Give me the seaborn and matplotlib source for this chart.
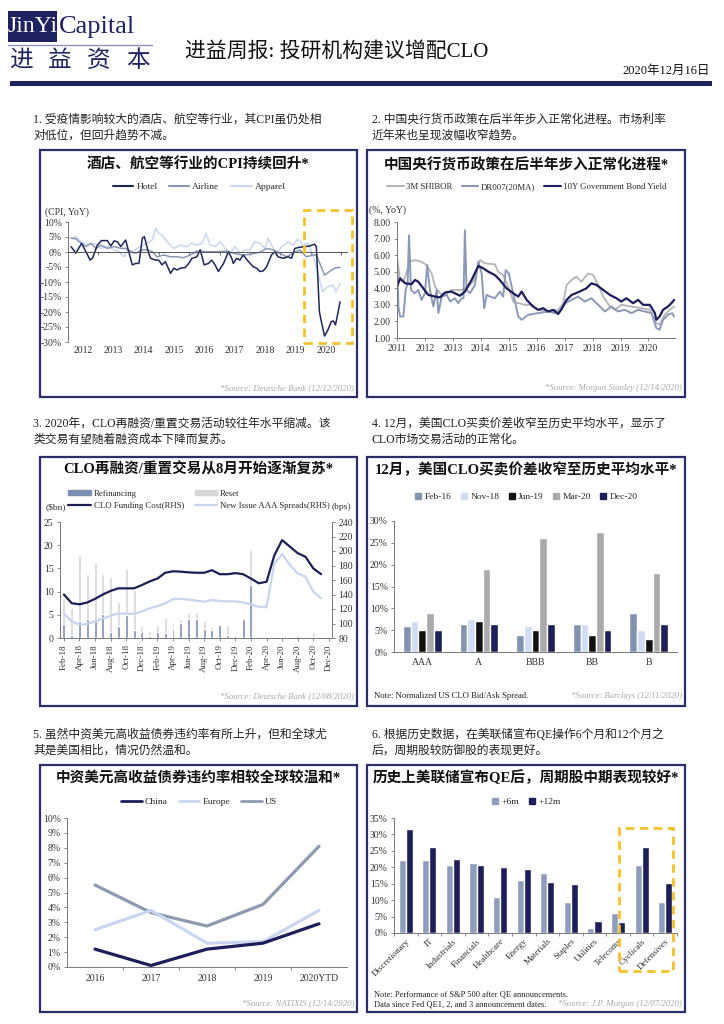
import numpy as np
import pandas as pd
import matplotlib
matplotlib.use("Agg")
import matplotlib.pyplot as plt
import matplotlib.patches as patches
from matplotlib.lines import Line2D
import seaborn as sns

# ---------------- data ----------------
# 1. CPI YoY (%), dates as decimal years
hotel_t = [2012.10, 2012.26, 2012.45, 2012.73, 2012.81, 2012.97, 2013.10, 2013.30, 2013.41, 2013.52,
           2013.63, 2013.74, 2013.90, 2014.12, 2014.23, 2014.34, 2014.45, 2014.52, 2014.63, 2014.72,
           2014.89, 2014.99, 2015.10, 2015.21, 2015.38, 2015.49, 2015.60, 2015.70, 2015.87, 2015.98,
           2016.09, 2016.25, 2016.36, 2016.49, 2016.63, 2016.74, 2016.85, 2016.96, 2017.13, 2017.29,
           2017.40, 2017.45, 2017.56, 2017.67, 2017.78, 2017.95, 2018.11, 2018.22, 2018.33, 2018.44,
           2018.55, 2018.71, 2018.82, 2018.93, 2019.09, 2019.26, 2019.37, 2019.48, 2019.64, 2019.80,
           2019.97, 2020.13, 2020.19, 2020.29, 2020.35, 2020.46, 2020.57, 2020.68, 2020.75, 2020.82,
           2020.90, 2020.97]
hotel_v = [1.8, -0.4, 2.9, -2.7, -2.0, 2.3, 3.8, 3.8, 2.0, 3.7,
           3.4, 1.8, 4.0, -4.3, -3.8, -3.8, 4.6, 5.1, 0.7, -2.1,
           -2.7, -2.7, -4.3, -3.2, -7.1, -5.4, -6.0, -5.4, -5.2, -3.8,
           -2.1, -1.6, 0.7, -4.3, -3.8, -2.7, -4.3, -6.5, -3.8, 0.1,
           -2.1, -3.8, -2.1, -2.7, -1.0, -3.2, -4.9, -5.4, -6.5, -6.3,
           -4.9, -1.0, 0.1, -1.6, -2.1, -1.6, -2.1, 1.2, 1.6, 1.8,
           2.0, 2.6, 1.8, -19.9, -23.0, -28.0, -26.0, -23.2, -23.0, -24.3,
           -20.4, -16.6]
airline_t = [2012.10, 2012.26, 2012.43, 2012.59, 2012.75, 2012.92, 2013.08, 2013.30, 2013.52, 2013.74,
             2013.90, 2014.12, 2014.23, 2014.45, 2014.63, 2014.78, 2014.94, 2015.16, 2015.38, 2015.60,
             2015.81, 2016.03, 2016.25, 2016.58, 2016.91, 2017.23, 2017.45, 2017.73, 2018.00, 2018.33,
             2018.55, 2018.77, 2018.98, 2019.20, 2019.42, 2019.64, 2019.86, 2020.08, 2020.19, 2020.46,
             2020.62, 2020.79, 2020.97]
airline_v = [4.6, 4.4, 2.9, 1.8, 2.9, 1.2, 2.3, 1.2, 1.8, 1.2,
             1.2, -0.1, -0.4, 0.7, 0.7, 0.1, -1.6, -1.0, -1.6, -1.6,
             -1.9, -1.0, 0.3, 0.1, 0.1, 0.3, -0.4, -1.0, -0.8, -0.1,
             1.2, 0.7, -0.4, -1.6, -0.4, 0.7, -1.6, -1.0, -1.0, -7.7,
             -6.5, -5.4, -5.1]
apparel_t = [2012.10, 2012.26, 2012.43, 2012.64, 2012.86, 2013.08, 2013.30, 2013.52, 2013.68, 2013.85,
             2013.96, 2014.12, 2014.39, 2014.61, 2014.78, 2014.89, 2014.99, 2015.10, 2015.27, 2015.49,
             2015.70, 2015.92, 2016.09, 2016.25, 2016.42, 2016.55, 2016.69, 2016.85, 2017.02, 2017.18,
             2017.34, 2017.51, 2017.67, 2017.84, 2018.00, 2018.16, 2018.33, 2018.49, 2018.60, 2018.77,
             2018.87, 2019.04, 2019.26, 2019.42, 2019.58, 2019.75, 2019.91, 2020.08, 2020.40, 2020.57,
             2020.73, 2020.84, 2020.97]
apparel_v = [4.6, 5.1, 3.4, 2.3, 2.9, 1.2, 1.8, 0.7, 0.1, -1.6,
             0.7, 0.1, 1.8, 2.9, 4.0, 7.9, 6.2, 5.7, 3.4, 1.2,
             2.3, 1.8, 2.9, 2.3, 2.9, 6.2, 2.3, 1.8, 3.4, 1.2,
             -0.4, 1.8, -0.4, 0.7, 0.7, 3.4, 2.9, 1.2, 4.6, 1.2,
             -1.0, 1.8, 3.4, 2.3, 4.3, 2.3, 2.9, -1.0, -13.2, -11.6,
             -11.0, -13.2, -10.5]
cpi_years = [2012, 2013, 2014, 2015, 2016, 2017, 2018, 2019, 2020]

# 2. China rates (%)
bond_t = [2011.00, 2011.11, 2011.29, 2011.52, 2011.64, 2011.76, 2011.94, 2012.12, 2012.36, 2012.54,
          2012.72, 2012.95, 2013.25, 2013.43, 2013.67, 2013.91, 2014.09, 2014.27, 2014.50, 2014.68,
          2014.92, 2015.16, 2015.34, 2015.46, 2015.64, 2015.87, 2016.05, 2016.23, 2016.41, 2016.59,
          2016.77, 2016.89, 2017.07, 2017.25, 2017.54, 2017.78, 2017.96, 2018.14, 2018.38, 2018.62,
          2018.85, 2019.03, 2019.21, 2019.45, 2019.63, 2019.81, 2020.05, 2020.23, 2020.28, 2020.40,
          2020.52, 2020.70, 2020.82, 2020.92]
bond_v = [4.1, 4.6, 4.3, 4.25, 4.5, 4.4, 4.0, 3.6, 3.5, 3.45,
          3.75, 3.8, 3.55, 3.8, 4.5, 5.35, 5.2, 5.0, 4.8, 4.5,
          4.0, 3.7, 3.5, 3.8, 3.3, 2.9, 2.7, 2.8, 2.6, 2.7,
          2.45, 2.75, 3.3, 3.6, 3.8, 4.0, 4.3, 4.2, 3.9, 3.6,
          3.4, 3.2, 3.4, 3.1, 3.3, 3.0, 3.0, 2.5, 2.1, 2.3,
          2.7, 2.9, 3.1, 3.3]
shibor_t = [2011.00, 2011.11, 2011.23, 2011.29, 2011.46, 2011.64, 2011.88, 2012.06, 2012.24, 2012.36,
            2012.54, 2012.72, 2012.95, 2013.31, 2013.55, 2013.73, 2013.97, 2014.15, 2014.50, 2014.62,
            2014.80, 2014.98, 2015.16, 2015.34, 2015.58, 2015.82, 2016.05, 2016.41, 2016.77, 2016.95,
            2017.07, 2017.25, 2017.42, 2017.60, 2017.84, 2018.02, 2018.20, 2018.38, 2018.62, 2018.80,
            2019.03, 2019.39, 2019.75, 2020.05, 2020.28, 2020.40, 2020.58, 2020.76, 2020.92]
shibor_v = [5.9, 4.5, 4.4, 4.7, 5.6, 5.7, 5.6, 5.4, 4.9, 4.1,
            3.7, 3.6, 3.9, 3.9, 4.1, 4.4, 5.7, 5.5, 5.45, 5.0,
            4.8, 4.1, 3.2, 3.1, 3.0, 3.0, 2.7, 2.6, 2.7, 3.1,
            4.2, 4.5, 4.7, 4.4, 4.9, 4.8, 4.2, 3.5, 2.9, 2.7,
            3.0, 2.9, 2.8, 2.7, 1.9, 1.8, 2.4, 2.7, 2.9]
dr007_t = [2011.00, 2011.05, 2011.11, 2011.23, 2011.31, 2011.38, 2011.43, 2011.50, 2011.64, 2011.76,
           2011.88, 2012.00, 2012.08, 2012.18, 2012.30, 2012.42, 2012.48, 2012.60, 2012.78, 2012.90,
           2013.07, 2013.19, 2013.31, 2013.38, 2013.43, 2013.49, 2013.61, 2013.79, 2013.91, 2014.03,
           2014.12, 2014.21, 2014.33, 2014.50, 2014.68, 2014.80, 2014.89, 2015.00, 2015.34, 2015.46,
           2015.70, 2016.05, 2016.41, 2016.65, 2016.83, 2017.01, 2017.25, 2017.48, 2017.72, 2017.96,
           2018.20, 2018.44, 2018.68, 2018.91, 2019.15, 2019.39, 2019.63, 2019.87, 2020.11, 2020.28,
           2020.40, 2020.52, 2020.70, 2020.85, 2020.92]
dr007_v = [6.0, 2.9, 2.3, 2.3, 3.9, 4.3, 7.2, 3.9, 3.7, 3.9,
           3.3, 3.7, 5.4, 3.9, 2.9, 3.9, 2.5, 3.5, 3.6, 3.2,
           3.4, 3.1, 3.4, 3.4, 7.5, 3.9, 3.7, 4.2, 5.6, 4.9,
           2.8, 3.6, 3.5, 3.4, 3.8, 3.5, 5.1, 4.9, 2.3, 2.1,
           2.4, 2.5, 2.6, 2.5, 2.6, 3.1, 3.3, 3.5, 3.2, 3.4,
           3.0, 2.6, 2.9, 2.6, 2.7, 2.5, 2.7, 2.6, 2.5, 1.6,
           1.5, 2.1, 2.4, 2.5, 2.3]
rate_years = [2011, 2012, 2013, 2014, 2015, 2016, 2017, 2018, 2019, 2020]

# 3. CLO refinancing / reset ($bn) and spreads (bps), monthly Feb-18 .. Dec-20
clo_months = list(pd.date_range("2018-02-01", "2020-12-01", freq="MS").strftime("%b-%y"))
refi = [3.0, 0.6, 3.7, 4.0, 3.6, 5.1, 1.4, 2.6, 5.0, 1.7,
        1.4, 0.5, 1.4, 1.15, 1.9, 3.2, 4.2, 4.1, 1.9, 1.7,
        2.9, 0.6, 0.0, 4.1, 11.4, 0.2, 0.0, 0.0, 0.0, 0.0,
        0.5, 0.2, 0.2, 0.0, 0.0]
reset = [8.6, 6.5, 17.9, 13.9, 16.4, 13.7, 13.2, 7.7, 15.0, 10.3,
         2.6, 1.5, 2.8, 4.5, 3.5, 4.2, 5.3, 5.7, 3.7, 2.4,
         2.9, 2.9, 0.6, 4.6, 19.0, 0.0, 0.0, 0.0, 0.0, 0.0,
         0.0, 0.2, 1.4, 0.0, 0.0]
funding_cost = [140, 128, 126.5, 129, 134, 140, 145, 148.5, 148.5, 148.5,
                153, 158, 162, 170, 172, 171.5, 170.5, 170, 170, 173.5,
                168, 168, 169.5, 168, 162, 155.5, 157.5, 194, 215, 206,
                197, 192, 176, 168]
aaa_spread = [114, 103, 98.5, 99.5, 103, 107, 110.5, 114, 113.5, 113.5,
              116.5, 121, 124, 128, 133.5, 134, 133, 131.5, 130, 132.5,
              131, 130.5, 130.5, 129, 126.5, 123, 122.5, 183, 195.5, 181,
              169, 164.5, 144, 135]

# 4. CLO bid/ask spread (%)
ratings = ["AAA", "A", "BBB", "BB", "B"]
spread_dates = ["Feb-16", "Nov-18", "Jun-19", "Mar-20", "Dec-20"]
spread_feb16 = [6.0, 6.5, 4.0, 6.5, 9.0]
spread_nov18 = [7.0, 7.5, 6.0, 6.5, 5.0]
spread_jun19 = [5.0, 7.0, 5.0, 4.0, 3.0]
spread_mar20 = [9.0, 19.0, 26.0, 27.5, 18.0]
spread_dec20 = [5.0, 6.5, 6.5, 5.0, 6.5]

# 5. High-yield default rates (%)
hy_years = ["2016", "2017", "2018", "2019", "2020YTD"]
hy_china = [1.2, 0.1, 1.2, 1.6, 2.9]
hy_europe = [2.5, 3.8, 1.6, 1.7, 3.8]
hy_us = [5.5, 3.65, 2.75, 4.2, 8.1]

# 6. S&P 500 sector performance after QE (%)
sectors = ["Discretionary", "IT", "Industrials", "Financials", "Healthcare", "Energy",
           "Materials", "Staples", "Utilities", "Telecoms", "Cyclicals", "Defensives"]
perf_6m = [22.2, 22.2, 20.6, 21.4, 11.0, 16.1, 18.3, 9.4, 1.5, 6.1, 20.6, 9.4]
perf_12m = [31.7, 26.2, 22.4, 20.6, 20.1, 19.5, 15.5, 14.8, 3.7, 3.3, 26.3, 15.1]

# ---------------- style ----------------
sns.set_theme(style="white")
plt.rcParams['font.family'] = ['Liberation Serif', 'Noto Sans CJK SC']
plt.rcParams['axes.unicode_minus'] = False

NAVY = '#1e2360'
GOLD = '#f2c22c'
W, H = 724, 1024
fig = plt.figure(figsize=(W / 100, H / 100), dpi=100)
fig.patch.set_facecolor('white')


def rect(x0, y0, x1, y1):
    return [x0 / W, 1 - y1 / H, (x1 - x0) / W, (y1 - y0) / H]


def ftext(x, y, s, **kw):
    kw.setdefault('va', 'center')
    return fig.text(x / W, 1 - y / H, s, **kw)


def frame(x0, y0, x1, y1, **kw):
    fig.add_artist(patches.Rectangle((x0 / W, 1 - y1 / H), (x1 - x0) / W, (y1 - y0) / H,
                                     transform=fig.transFigure, **kw))


def style_ax(ax):
    sns.despine(ax=ax)
    for s in ['left', 'bottom']:
        ax.spines[s].set_color('#777777')
        ax.spines[s].set_linewidth(0.7)
    ax.tick_params(axis='both', labelsize=7, labelcolor='#333333', color='#777777',
                   length=2.5, width=0.6, left=True, bottom=True, pad=2)
    ax.set_xlabel('')
    ax.set_ylabel('')


def legend(handles, labels, x, y, fontsize=7, **kw):
    fig.legend(handles, labels, loc='center', bbox_to_anchor=(x / W, 1 - y / H),
               frameon=False, fontsize=fontsize, handletextpad=0.3, borderaxespad=0, **kw)


def source(x, y, s):
    ftext(x, y, s, ha='right', fontsize=6.3, style='italic', color='#a8a8a8')


# ---------------- header ----------------
frame(8, 11, 57, 42, color=NAVY, lw=0)
ftext(32.5, 27, 'JinYi', color='white', fontsize=17, ha='center')
ftext(59, 27, 'Capital', color=NAVY, fontsize=19, ha='left')
fig.add_artist(Line2D([8 / W, 152 / W], [1 - 45 / H] * 2, transform=fig.transFigure,
                      color='#9096b8', lw=1))
for i, ch in enumerate('进益资本'):
    ftext(21 + i * 39, 61, ch, fontsize=17, color=NAVY, ha='center')
ftext(185, 52, '进益周报: 投研机构建议增配CLO', fontsize=15, ha='left', color='#111111')
ftext(710, 71, '2020年12月16日', fontsize=9, ha='right', color='#111111')
frame(10, 81, 712, 86, color=NAVY, lw=0)

# captions
cap = dict(fontsize=8.5, ha='left', color='#222222')
ftext(33, 120, '1. 受疫情影响较大的酒店、航空等行业，其CPI虽仍处相', **cap)
ftext(33, 136, '对低位，但回升趋势不减。', **cap)
ftext(372, 120, '2. 中国央行货币政策在后半年步入正常化进程。市场利率', **cap)
ftext(372, 136, '近年来也呈现波幅收窄趋势。', **cap)
ftext(33, 424, '3. 2020年，CLO再融资/重置交易活动较往年水平缩减。该', **cap)
ftext(33, 440, '类交易有望随着融资成本下降而复苏。', **cap)
ftext(372, 424, '4. 12月，美国CLO买卖价差收窄至历史平均水平，显示了', **cap)
ftext(372, 440, 'CLO市场交易活动的正常化。', **cap)
ftext(33, 735, '5. 虽然中资美元高收益债券违约率有所上升，但和全球尤', **cap)
ftext(33, 751, '其是美国相比，情况仍然温和。', **cap)
ftext(372, 735, '6. 根据历史数据，在美联储宣布QE操作6个月和12个月之', **cap)
ftext(372, 751, '后，周期股较防御股的表现更好。', **cap)

# panel frames and titles
boxes = [(40, 150, 357, 397), (367, 150, 685, 397), (40, 457, 357, 706),
         (367, 457, 685, 706), (40, 765, 357, 1012), (367, 765, 685, 1012)]
for b in boxes:
    frame(*b, fill=False, ec='#2b2e68', lw=1.6)
tit = dict(fontsize=10.5, fontweight='bold', ha='center', color='#111111')
ftext(198.5, 165, '酒店、航空等行业的CPI持续回升*', **tit)
ftext(526, 165, '中国央行货币政策在后半年步入正常化进程*', **tit)
ftext(198.5, 470, 'CLO再融资/重置交易从8月开始逐渐复苏*', **tit)
ftext(526, 470, '12月，美国CLO买卖价差收窄至历史平均水平*', **tit)
ftext(198.5, 778, '中资美元高收益债券违约率相较全球较温和*', **tit)
ftext(526, 778, '历史上美联储宣布QE后，周期股中期表现较好*', **tit)

# ---------------- panel 1 ----------------
c_hotel, c_air, c_app = '#1e2858', '#8898b3', '#c9d7ee'
ax1 = fig.add_axes(rect(68, 222, 347, 342))
sns.lineplot(x=apparel_t, y=apparel_v, color=c_app, lw=1.1, ax=ax1)
sns.lineplot(x=airline_t, y=airline_v, color=c_air, lw=1.1, ax=ax1)
sns.lineplot(x=hotel_t, y=hotel_v, color=c_hotel, lw=1.1, ax=ax1)
style_ax(ax1)
ax1.set_xlim(2012, 2021.2)
ax1.set_ylim(-30, 10)
ax1.set_yticks(range(-30, 11, 5))
ax1.set_yticklabels([f'{v}%' for v in range(-30, 11, 5)])
ax1.spines['bottom'].set_position(('data', 0))
ax1.spines['bottom'].set_color('#555555')
ax1.set_xticks([y + 0.5 for y in cpi_years])
ax1.set_xticklabels([str(y) for y in cpi_years])
ax1.set_xticks([y + 1 for y in cpi_years], minor=True)
ax1.tick_params(axis='x', which='major', length=0, pad=68)
ax1.tick_params(axis='x', which='minor', length=2.5, width=0.6, bottom=True, color='#555555')
ftext(45, 212, '(CPI, YoY)', fontsize=7, ha='left', color='#333333')
legend([Line2D([], [], color=c, lw=1.5) for c in (c_hotel, c_air, c_app)],
       ['Hotel', 'Airline', 'Apparel'], 199, 187, fontsize=6.8, ncol=3, handlelength=2.2,
       columnspacing=1.2)
frame(304, 210, 352, 343, fill=False, ec=GOLD, lw=2, ls=(0, (3, 2)))
source(354, 388, '*Source: Deutsche Bank (12/12/2020)')

# ---------------- panel 2 ----------------
c_sh, c_dr, c_bd = '#b5b5b5', '#8a9ab6', '#1c1f5a'
ax2 = fig.add_axes(rect(397, 222, 675, 338))
sns.lineplot(x=shibor_t, y=shibor_v, color=c_sh, lw=1.3, ax=ax2)
sns.lineplot(x=dr007_t, y=dr007_v, color=c_dr, lw=1.4, ax=ax2)
sns.lineplot(x=bond_t, y=bond_v, color=c_bd, lw=1.6, ax=ax2)
style_ax(ax2)
ax2.set_xlim(2011, 2020.95)
ax2.set_ylim(1, 8)
ax2.set_yticks(range(1, 9))
ax2.set_yticklabels([f'{v:.2f}' for v in range(1, 9)])
ax2.set_xticks(rate_years)
ax2.set_xticklabels([str(y) for y in rate_years])
ftext(369, 210, '(%, YoY)', fontsize=7, ha='left', color='#333333')
legend([Line2D([], [], color=c, lw=1.5) for c in (c_sh, c_dr, c_bd)],
       ['3M SHIBOR', 'DR007(20MA)', '10Y Government Bond Yield'], 527, 187, fontsize=6.3,
       ncol=3, handlelength=1.9, columnspacing=1.0)
source(682, 388, '*Source: Morgan Stanley (12/14/2020)')

# ---------------- panel 3 ----------------
c_refi, c_reset, c_fund, c_aaa = '#7d8fb0', '#d6d6d6', '#1c1f55', '#c7d6ef'
ax3 = fig.add_axes(rect(60, 522, 332, 638))
sns.barplot(x=clo_months, y=reset, color=c_reset, width=0.38, saturation=1, ax=ax3)
sns.barplot(x=clo_months, y=refi, color=c_refi, width=0.38, saturation=1, ax=ax3)
style_ax(ax3)
ax3.set_ylim(0, 25)
ax3.set_yticks(range(0, 26, 5))
ax3.set_xticks(range(0, len(clo_months), 2))
ax3.set_xticklabels(clo_months[::2], rotation=90, fontsize=6.5)
ax3r = ax3.twinx()
sns.lineplot(x=list(range(len(funding_cost))), y=aaa_spread, color=c_aaa, lw=1.6, ax=ax3r)
sns.lineplot(x=list(range(len(funding_cost))), y=funding_cost, color=c_fund, lw=1.6, ax=ax3r)
ax3r.set_ylim(80, 240)
ax3r.set_yticks(range(80, 241, 20))
for s in ['top', 'left', 'bottom']:
    ax3r.spines[s].set_visible(False)
ax3r.spines['right'].set_visible(True)
ax3r.spines['right'].set_color('#777777')
ax3r.spines['right'].set_linewidth(0.7)
ax3r.tick_params(axis='y', labelsize=7, labelcolor='#333333', color='#777777',
                 length=2.5, width=0.6, right=True, pad=2)
ax3r.set_ylabel('')
ax3.set_xlim(-0.5, 34.4)
ax3r.set_xlim(-0.5, 34.4)
ftext(56, 507, '($bn)', fontsize=6.8, ha='center', color='#333333')
ftext(341, 507, '(bps)', fontsize=6.8, ha='center', color='#333333')
legend([patches.Patch(color=c_refi), Line2D([], [], color=c_fund, lw=1.6),
        patches.Patch(color=c_reset), Line2D([], [], color=c_aaa, lw=1.6)],
       ['Refinancing', 'CLO Funding Cost(RHS)', 'Reset', 'New Issue AAA Spreads(RHS)'],
       199, 500, fontsize=6.3, ncol=2, handlelength=2.6, handleheight=0.45, columnspacing=1.2,
       labelspacing=0.5)
source(354, 696, '*Source: Deutsche Bank (12/08/2020)')

# ---------------- panel 4 ----------------
c_spread = ['#8193b0', '#d0dcf2', '#111111', '#aaaaaa', '#1d2157']
df4 = pd.DataFrame({
    'rating': ratings * 5,
    'date': np.repeat(spread_dates, len(ratings)),
    'val': spread_feb16 + spread_nov18 + spread_jun19 + spread_mar20 + spread_dec20,
})
ax4 = fig.add_axes(rect(394, 521, 677, 652))
sns.barplot(data=df4, x='rating', y='val', hue='date', palette=c_spread, width=0.68,
            saturation=1, legend=False, ax=ax4)
style_ax(ax4)
ax4.set_ylim(0, 30)
ax4.set_yticks(range(0, 31, 5))
ax4.set_yticklabels([f'{v}%' for v in range(0, 31, 5)])
ax4.tick_params(axis='x', length=0, pad=4)
legend([Line2D([], [], marker='s', ls='', color=c, markersize=4.5) for c in c_spread],
       spread_dates, 526, 497, fontsize=6.8, ncol=5, handlelength=0.8, columnspacing=0.9)
ftext(374, 696, 'Note: Normalized US CLO Bid/Ask Spread.', fontsize=6.2, ha='left', color='#222222')
source(682, 696, '*Source: Barclays (12/11/2020)')

# ---------------- panel 5 ----------------
c_cn, c_eu, c_us = '#1c1f5a', '#c9d7ee', '#8c9bb0'
pos5 = list(range(len(hy_years)))
ax5 = fig.add_axes(rect(67, 818, 347, 967))
sns.lineplot(x=pos5, y=hy_us, color=c_us, lw=2.3, ax=ax5)
sns.lineplot(x=pos5, y=hy_europe, color=c_eu, lw=2.3, ax=ax5)
sns.lineplot(x=pos5, y=hy_china, color=c_cn, lw=2.3, ax=ax5)
style_ax(ax5)
ax5.set_xlim(-0.5, len(hy_years) - 0.5)
ax5.set_ylim(0, 10)
ax5.set_yticks(range(0, 11))
ax5.set_yticklabels([f'{v}%' for v in range(0, 11)])
ax5.set_xticks(pos5)
ax5.set_xticklabels(hy_years)
ax5.set_xticks([p + 0.5 for p in pos5[:-1]], minor=True)
ax5.tick_params(axis='x', which='major', length=0, pad=5)
ax5.tick_params(axis='x', which='minor', length=2.5, width=0.6, bottom=True, color='#777777')
legend([Line2D([], [], color=c, lw=2) for c in (c_cn, c_eu, c_us)],
       ['China', 'Europe', 'US'], 199, 802, fontsize=6.8, ncol=3, handlelength=2.2,
       columnspacing=1.2)
source(354, 1003, '*Source: NATIXIS (12/14/2020)')

# ---------------- panel 6 ----------------
c_6m, c_12m = '#8e9dbb', '#1c1f5a'
df6 = pd.DataFrame({
    'sector': sectors * 2,
    'period': ['+6m'] * len(sectors) + ['+12m'] * len(sectors),
    'val': perf_6m + perf_12m,
})
ax6 = fig.add_axes(rect(394, 818, 677, 933))
sns.barplot(data=df6, x='sector', y='val', hue='period', palette=[c_6m, c_12m], width=0.6,
            saturation=1, legend=False, ax=ax6)
style_ax(ax6)
ax6.set_ylim(0, 35)
ax6.set_yticks(range(0, 36, 5))
ax6.set_yticklabels([f'{v}%' for v in range(0, 36, 5)])
ax6.set_xticks(range(len(sectors)))
ax6.set_xticklabels(sectors, rotation=45, ha='right', rotation_mode='anchor', fontsize=6.5)
ax6.set_xticks([i + 0.5 for i in range(-1, len(sectors))], minor=True)
ax6.tick_params(axis='x', which='major', length=0, pad=3)
ax6.tick_params(axis='x', which='minor', length=2.5, width=0.6, bottom=True, color='#777777')
legend([Line2D([], [], marker='s', ls='', color=c, markersize=4.5) for c in (c_6m, c_12m)],
       ['+6m', '+12m'], 526, 802, fontsize=6.8, ncol=2, handlelength=0.8, columnspacing=0.9)
frame(619, 828, 673, 971, fill=False, ec=GOLD, lw=2, ls=(0, (3, 2)))
ftext(374, 994, 'Note: Performance of S&P 500 after QE announcements.', fontsize=6, ha='left',
      color='#222222')
ftext(374, 1004, 'Data since Fed QE1, 2, and 3 announcement dates.', fontsize=6, ha='left',
      color='#222222')
source(682, 1004, '*Source: J.P. Morgan (12/07/2020)')

fig.savefig('out.png', dpi=100, facecolor='white')
